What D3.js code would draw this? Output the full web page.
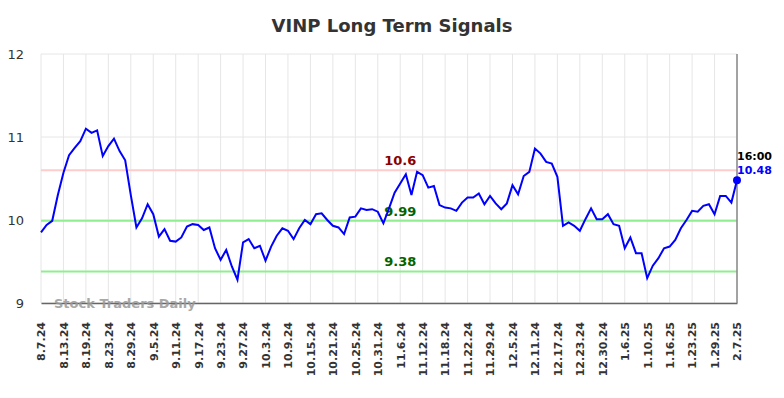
<!DOCTYPE html>
<head>
    <meta charset="utf-8">
    <title>VINP Long Term Signals</title>
    <style>
        body { margin: 0; background: #fff; }
        text { font-family: "DejaVu Sans", sans-serif; }
    </style>
</head>
<body>
<svg width="784" height="398"></svg>
<script src="https://d3js.org/d3.v7.min.js"></script>
<script>

    // tick labels, one every 4 sessions
    var tickLabels = ["8.7.24","8.13.24","8.19.24","8.23.24","8.29.24","9.5.24","9.11.24","9.17.24",
        "9.23.24","9.27.24","10.3.24","10.9.24","10.15.24","10.21.24","10.25.24","10.31.24",
        "11.6.24","11.12.24","11.18.24","11.22.24","11.29.24","12.5.24","12.11.24","12.17.24",
        "12.23.24","12.30.24","1.6.25","1.10.25","1.16.25","1.23.25","1.29.25","2.7.25"];

    // closing prices
    var prices = [9.85,9.94,9.99,10.30,10.57,10.78,10.87,10.95,11.10,11.05,
        11.08,10.77,10.89,10.98,10.83,10.72,10.30,9.91,10.02,10.19,
        10.07,9.80,9.89,9.75,9.74,9.79,9.92,9.95,9.94,9.88,
        9.91,9.66,9.52,9.64,9.44,9.28,9.73,9.77,9.66,9.69,
        9.51,9.68,9.81,9.90,9.87,9.77,9.90,10.00,9.95,10.07,
        10.08,10.00,9.93,9.91,9.83,10.03,10.04,10.14,10.12,10.13,
        10.10,9.96,10.14,10.33,10.44,10.55,10.30,10.58,10.54,10.39,
        10.41,10.18,10.15,10.14,10.11,10.21,10.27,10.27,10.32,10.19,
        10.29,10.20,10.13,10.20,10.42,10.31,10.53,10.58,10.86,10.80,
        10.70,10.68,10.52,9.93,9.97,9.93,9.87,10.01,10.14,10.01,
        10.01,10.07,9.95,9.93,9.66,9.79,9.60,9.60,9.30,9.45,
        9.54,9.66,9.68,9.76,9.90,10.00,10.11,10.10,10.17,10.19,
        10.07,10.29,10.29,10.21,10.48];

    var yTicks = [9, 10, 11, 12];
    var signals = [
        {value: 10.6, line: "#ffcccc", text: "#8b0000", label: "10.6"},
        {value: 9.99, line: "#90ee90", text: "#006400", label: "9.99"},
        {value: 9.38, line: "#90ee90", text: "#006400", label: "9.38"}
    ];

    var svg = d3.select("svg"),
        margin = {top: 54, right: 47, bottom: 95, left: 41},
        width = 784 - margin.left - margin.right,
        height = 398 - margin.top - margin.bottom;

    var x = d3.scaleLinear().domain([0, prices.length - 1]).range([0, width]);
    var y = d3.scaleLinear().domain([9, 12]).range([height, 0]);

    var g = svg.append("g").attr("transform", "translate(" + margin.left + "," + margin.top + ")");

    // title
    svg.append("text")
        .attr("x", 392).attr("y", 32)
        .attr("text-anchor", "middle")
        .style("font-size", "18px").style("font-weight", "bold").style("fill", "#333")
        .text("VINP Long Term Signals");

    var tickIdx = tickLabels.map((d, i) => i * 4);

    // grid
    g.selectAll(".vgrid").data(tickIdx).enter().append("line")
        .attr("x1", d => x(d)).attr("x2", d => x(d))
        .attr("y1", 0).attr("y2", height)
        .attr("stroke", "#e6e6e6").attr("stroke-width", 1);
    g.selectAll(".hgrid").data(yTicks).enter().append("line")
        .attr("x1", 0).attr("x2", width)
        .attr("y1", d => y(d)).attr("y2", d => y(d))
        .attr("stroke", "#e6e6e6").attr("stroke-width", 1);

    // y axis labels
    var yAxis = g.append("g").call(d3.axisLeft(y).tickValues(yTicks).tickSize(0).tickPadding(17).tickFormat(d3.format("d")));
    yAxis.select(".domain").remove();
    yAxis.selectAll("text").style("font-size", "13px").style("fill", "#333").style("font-family", "DejaVu Sans, sans-serif");

    // x axis
    var xAxis = g.append("g").attr("transform", "translate(0," + height + ")")
        .call(d3.axisBottom(x).tickValues(tickIdx).tickSize(0).tickFormat((d, i) => tickLabels[i]));
    xAxis.select(".domain").attr("stroke", "#666").attr("stroke-width", 1.5);
    xAxis.selectAll("text")
        .attr("transform", "rotate(-90)")
        .attr("text-anchor", "end")
        .attr("x", -19).attr("y", 0).attr("dy", "0.35em")
        .style("font-size", "11px").style("font-weight", "bold").style("fill", "#333")
        .style("font-family", "DejaVu Sans, sans-serif");

    // watermark
    g.append("text")
        .attr("x", 13).attr("y", 5)
        .attr("transform", "translate(0," + height + ")")
        .style("font-size", "13px").style("font-weight", "bold").style("fill", "#999").style("opacity", 0.85)
        .text("Stock Traders Daily");

    // signal lines
    signals.forEach(s => {
        g.append("line")
            .attr("x1", 0).attr("x2", width)
            .attr("y1", y(s.value)).attr("y2", y(s.value))
            .attr("stroke", s.line).attr("stroke-width", 2);
        g.append("text")
            .attr("x", x(64)).attr("y", y(s.value) - 5)
            .attr("text-anchor", "middle")
            .style("font-size", "13px").style("font-weight", "bold").style("fill", s.text)
            .text(s.label);
    });

    // right marker line
    var last = prices.length - 1;
    g.append("line")
        .attr("x1", x(last)).attr("x2", x(last))
        .attr("y1", 0).attr("y2", height)
        .attr("stroke", "#888").attr("stroke-width", 1.5);

    // price line
    var line = d3.line().x((d, i) => x(i)).y(d => y(d));
    g.append("path").datum(prices)
        .attr("d", line)
        .attr("fill", "none").attr("stroke", "#0000ff").attr("stroke-width", 2);

    g.append("circle")
        .attr("cx", x(last)).attr("cy", y(prices[last])).attr("r", 4)
        .attr("fill", "#0000ff");

    g.append("text")
        .attr("x", x(last)).attr("y", y(prices[last]) - 20)
        .style("font-size", "11px").style("font-weight", "bold").style("fill", "#000")
        .text("16:00");
    g.append("text")
        .attr("x", x(last)).attr("y", y(prices[last]) - 6)
        .style("font-size", "11px").style("font-weight", "bold").style("fill", "#0000ff")
        .text(prices[last].toFixed(2));

</script>
</body>
